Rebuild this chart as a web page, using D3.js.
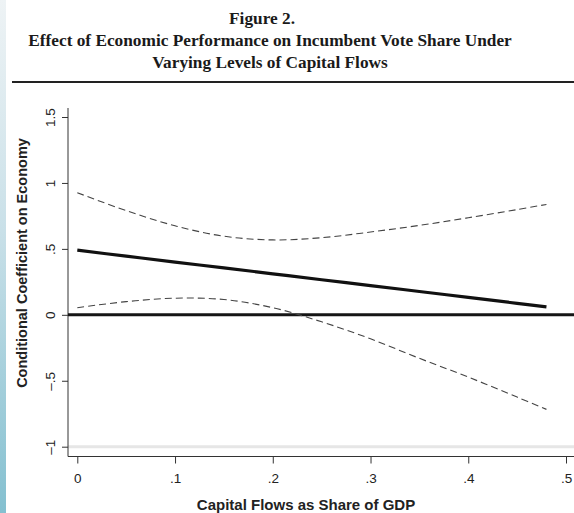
<!DOCTYPE html>
<html>
<head>
<meta charset="utf-8">
<script src="https://cdn.jsdelivr.net/npm/d3@7"></script>
<style>
  html, body { margin: 0; padding: 0; background: #fff; }
  svg { display: block; }
</style>
</head>
<body>
<svg id="chart" width="574" height="513"></svg>
<script>
// Capital flows (share of GDP) at which the conditional effect is evaluated
const capitalFlows = [0, 0.05, 0.10, 0.15, 0.20, 0.25, 0.30, 0.35, 0.40, 0.45, 0.48];
// Conditional coefficient on economy
const coefficient = [0.49, 0.445, 0.40, 0.356, 0.311, 0.266, 0.222, 0.177, 0.132, 0.087, 0.06];
// 95% confidence bounds
const upperBound = [0.926, 0.79, 0.675, 0.596, 0.568, 0.585, 0.628, 0.678, 0.736, 0.798, 0.837];
const lowerBound = [0.054, 0.10, 0.126, 0.116, 0.054, -0.053, -0.182, -0.33, -0.472, -0.624, -0.717];

const xTicks = [0, 0.1, 0.2, 0.3, 0.4, 0.5];
const xTickLabels = ["0", ".1", ".2", ".3", ".4", ".5"];
const yTicks = [-1, -0.5, 0, 0.5, 1, 1.5];
const yTickLabels = ["\u20131", "\u2013.5", "0", ".5", "1", "1.5"];

const titleLines = [
  "Figure 2.",
  "Effect of Economic Performance on Incumbent Vote Share Under",
  "Varying Levels of Capital Flows"
];
const xTitle = "Capital Flows as Share of GDP";
const yTitle = "Conditional Coefficient on Economy";

const svg = d3.select("#chart");

// page edge strip
const defs = svg.append("defs");
const grad = defs.append("linearGradient").attr("id", "edge")
  .attr("x1", 0).attr("y1", 0).attr("x2", 0).attr("y2", 1);
grad.append("stop").attr("offset", "0%").attr("stop-color", "#eef3f5");
grad.append("stop").attr("offset", "45%").attr("stop-color", "#c9e0e8");
grad.append("stop").attr("offset", "100%").attr("stop-color", "#84c0d0");
svg.append("rect").attr("x", 0).attr("y", 0).attr("width", 6).attr("height", 513)
  .attr("fill", "url(#edge)");

// title block
const titleY = [24, 46, 68];
svg.selectAll("text.title").data(titleLines).join("text")
  .attr("class", "title")
  .attr("x", (d, i) => i === 0 ? 262 : 270)
  .attr("y", (d, i) => titleY[i])
  .attr("text-anchor", "middle")
  .attr("font-family", "'Liberation Serif', 'Times New Roman', serif")
  .attr("font-weight", "bold")
  .attr("font-size", 17.3)
  .attr("fill", "#1a1a1a")
  .text(d => d);

svg.append("line").attr("x1", 12).attr("x2", 574).attr("y1", 82).attr("y2", 82)
  .attr("stroke", "#222").attr("stroke-width", 2.2);

// scales
const x = d3.scaleLinear().domain([0, 0.5]).range([77.3, 566]);
const y = d3.scaleLinear().domain([-1, 1.5]).range([446.7, 117]);

const axisX0 = 68, axisY0 = 456.5;

// faint line at -1
svg.append("line").attr("x1", axisX0).attr("x2", 574)
  .attr("y1", y(-1)).attr("y2", y(-1))
  .attr("stroke", "#e6e6e6").attr("stroke-width", 3);

// y axis
const yAxis = svg.append("g").attr("transform", `translate(${axisX0},0)`)
  .call(d3.axisLeft(y).tickValues(yTicks).tickSize(6).tickPadding(0)
    .tickFormat((d, i) => yTickLabels[i]));
yAxis.select(".domain").remove();
yAxis.selectAll(".tick line").attr("stroke", "#333");
yAxis.selectAll(".tick text")
  .attr("transform", "translate(-18,0) rotate(-90)")
  .attr("x", 0).attr("dy", "0.35em")
  .attr("text-anchor", "middle")
  .attr("font-family", "'Liberation Sans', Arial, sans-serif")
  .attr("font-size", 13.5)
  .attr("fill", "#222");
svg.append("line").attr("x1", axisX0).attr("x2", axisX0).attr("y1", 108).attr("y2", axisY0)
  .attr("stroke", "#333").attr("stroke-width", 1);

// x axis
const xAxis = svg.append("g").attr("transform", `translate(0,${axisY0})`)
  .call(d3.axisBottom(x).tickValues(xTicks).tickSize(7).tickPadding(10)
    .tickFormat((d, i) => xTickLabels[i]));
xAxis.select(".domain").remove();
xAxis.selectAll(".tick line").attr("stroke", "#333");
xAxis.selectAll(".tick text")
  .attr("font-family", "'Liberation Sans', Arial, sans-serif")
  .attr("font-size", 13.5)
  .attr("fill", "#222");
svg.append("line").attr("x1", axisX0).attr("x2", 574).attr("y1", axisY0).attr("y2", axisY0)
  .attr("stroke", "#333").attr("stroke-width", 1);

// axis titles
svg.append("text").attr("x", 306).attr("y", 510)
  .attr("text-anchor", "middle")
  .attr("font-family", "'Liberation Sans', Arial, sans-serif")
  .attr("font-weight", "bold").attr("font-size", 15)
  .attr("fill", "#222").text(xTitle);
svg.append("text")
  .attr("transform", "translate(27,263) rotate(-90)")
  .attr("text-anchor", "middle")
  .attr("font-family", "'Liberation Sans', Arial, sans-serif")
  .attr("font-weight", "bold").attr("font-size", 14.5)
  .attr("fill", "#222").text(yTitle);

// zero reference line
svg.append("line").attr("x1", axisX0).attr("x2", 574).attr("y1", y(0)).attr("y2", y(0))
  .attr("stroke", "#151515").attr("stroke-width", 3);

// lines
const makeLine = vals => d3.line()
  .x((d, i) => x(capitalFlows[i]))
  .y(d => y(d))
  .curve(d3.curveCatmullRom)(vals);

svg.append("path").attr("d", makeLine(upperBound))
  .attr("fill", "none").attr("stroke", "#444").attr("stroke-width", 1.1)
  .attr("stroke-dasharray", "7,4");
svg.append("path").attr("d", makeLine(lowerBound))
  .attr("fill", "none").attr("stroke", "#444").attr("stroke-width", 1.1)
  .attr("stroke-dasharray", "7,4");
svg.append("path").attr("d", makeLine(coefficient))
  .attr("fill", "none").attr("stroke", "#111").attr("stroke-width", 3.2);
</script>
</body>
</html>
